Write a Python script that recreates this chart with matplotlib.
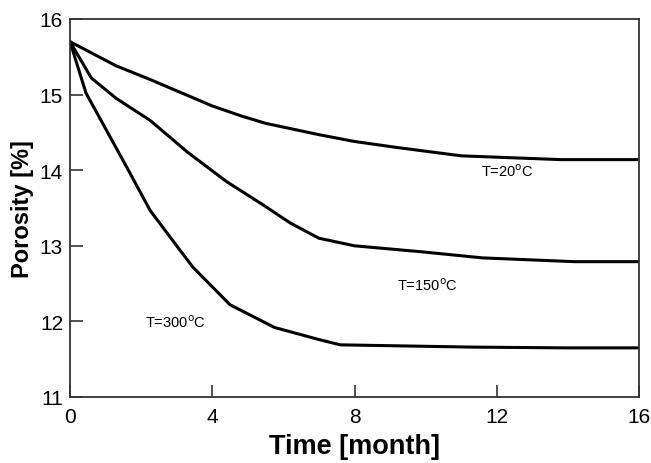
import matplotlib
matplotlib.use("Agg")
import matplotlib.pyplot as plt

plt.rcParams['font.family'] = ['Liberation Sans', 'DejaVu Sans']

# porosity vs time for three temperatures
t20 = [0, 1.3, 2.2, 3.2, 4.0, 4.8, 5.5, 7.0, 8.0, 9.2, 11.0, 13.8, 16]
p20 = [15.7, 15.38, 15.21, 15.01, 14.85, 14.72, 14.62, 14.47, 14.38, 14.3, 14.19, 14.14, 14.14]

t150 = [0, 0.6, 1.3, 2.25, 3.3, 4.4, 5.4, 6.2, 7.0, 8.0, 9.9, 11.6, 14.2, 16]
p150 = [15.7, 15.22, 14.95, 14.66, 14.24, 13.85, 13.55, 13.3, 13.1, 13.0, 12.92, 12.84, 12.79, 12.79]

t300 = [0, 0.45, 1.0, 1.7, 2.25, 3.0, 3.45, 4.5, 5.75, 7.0, 7.6, 11.3, 13.9, 16]
p300 = [15.7, 15.02, 14.55, 13.95, 13.47, 13.0, 12.72, 12.22, 11.92, 11.76, 11.69, 11.66, 11.65, 11.65]

labels = ['T=20$^{\\rm o}$C', 'T=150$^{\\rm o}$C', 'T=300$^{\\rm o}$C']
label_pos = [(11.55, 13.99), (9.2, 12.49), (2.1, 11.99)]

fig = plt.figure(figsize=(6.51, 4.64), dpi=100)
ax = fig.add_axes([70/651, 66/464, 569/651, 378/464])

for t, p in [(t20, p20), (t150, p150), (t300, p300)]:
    ax.plot(t, p, color='black', lw=2.2)

for s, (x, y) in zip(labels, label_pos):
    ax.text(x, y, s, fontsize=10.5, va='center', ha='left')

ax.set_xlim(0, 16)
ax.set_ylim(11, 16)
ax.set_xticks([0, 4, 8, 12, 16])
ax.set_yticks([11, 12, 13, 14, 15, 16])
ax.tick_params(direction='in', length=9, width=1.2, labelsize=15,
               top=False, right=False, colors='#333333', labelcolor='black')
ax.tick_params(axis='x', pad=7)
ax.tick_params(axis='y', pad=5)
for sp in ax.spines.values():
    sp.set_linewidth(1.3)
    sp.set_color('#333333')

ax.set_xlabel('Time [month]', fontsize=19.5, fontweight='bold', labelpad=5)
ax.set_ylabel('Porosity [%]', fontsize=17, fontweight='bold', labelpad=4)

fig.savefig('out.png', dpi=100)
